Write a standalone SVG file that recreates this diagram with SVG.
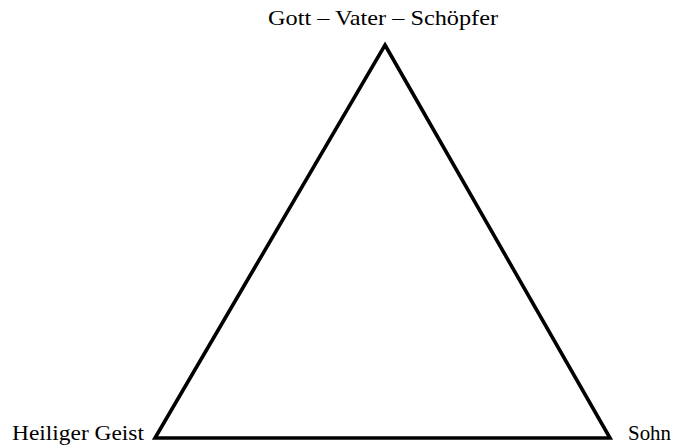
<svg xmlns="http://www.w3.org/2000/svg" width="675" height="445" viewBox="0 0 675 445">
<style>
text{font-family:"Liberation Serif","Times New Roman",serif;font-size:22px;fill:#000}
.edge{fill:none;stroke:#000;stroke-width:3.6;stroke-linejoin:miter}
</style>
<rect width="675" height="445" fill="#fff"/>
<g id="connectors">
<path class="edge" d="M385,45 L610,438 L155,438 Z"/>
</g>
<g id="node-gott"><text x="268" y="25" textLength="230" lengthAdjust="spacingAndGlyphs">Gott – Vater – Schöpfer</text></g>
<g id="node-geist"><text x="12" y="440" textLength="132" lengthAdjust="spacingAndGlyphs">Heiliger Geist</text></g>
<g id="node-sohn"><text x="628" y="440" textLength="43" lengthAdjust="spacingAndGlyphs">Sohn</text></g>
</svg>
